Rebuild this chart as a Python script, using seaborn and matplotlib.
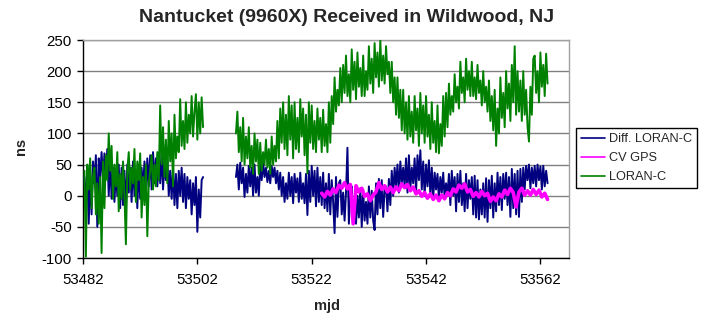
import numpy as np
import pandas as pd
import matplotlib
matplotlib.use("Agg")
import matplotlib.pyplot as plt
from matplotlib.lines import Line2D
import seaborn as sns

# ---------------- data ----------------
TITLE = "Nantucket (9960X) Received in Wildwood, NJ"
SERIES = ["Diff. LORAN-C", "CV GPS", "LORAN-C"]
COLORS = {"Diff. LORAN-C": "#000080", "CV GPS": "#FF00FF", "LORAN-C": "#008000"}
XTICKS = [53482, 53502, 53522, 53542, 53562]
YTICKS = [-100, -50, 0, 50, 100, 150, 200, 250]

# sampling of the recorded series (start mjd, step in days)
SEG1_START, SEG2_START, GPS_START = 53482.25, 53508.75, 53523.75
LORAN_STEP, GPS_STEP = 0.25, 0.5

loran_seg1 = [
    40, -98, 50,
    10, 60, -20, 30,
    45, -30, 20, -45,
    30, -92, 55, -20,
    65, 25, 100, 40,
    80, -5, 50, 15,
    70, -25, 35, -5,
    55, 0, -78, 40,
    70, 10, 45, 20,
    75, -10, 55, 25,
    68, -35, 30, -15,
    50, -65, 20, 40,
    65, 10, 50, 15,
    70, 25, 145, 50,
    110, 30, 90, 20,
    120, 55, 100, 15,
    130, 60, 95, 70,
    155, 80, 120, 75,
    150, 85, 130, 100,
    160, 95, 135, 163,
    90, 150, 100, 158,
    110,
]
diff_seg1 = [
    30, -15, 40,
    -45, 35, -30, 55,
    20, 65, -50, 60,
    30, 70, 25, 68,
    35, 75, 0, 60,
    -5, 45, -10, 40,
    0, 50, -20, 45,
    -15, 40, -25, 50,
    5, 45, -10, 55,
    0, 40, -20, 50,
    -5, 45, 10, 55,
    5, 60, 15, 65,
    10, 70, 20, 60,
    15, 65, 20, 70,
    10, 55, 25, 60,
    0, 40, -5, 45,
    -15, 35, -20, 40,
    0, 45, -10, 35,
    -20, 30, -5, 25,
    -30, 20, -15, 30,
    -58, 10, -35, 25,
    30,
]
loran_seg2 = [
    100,
    135, 70, 110, 55,
    125, 50, 95, 60,
    110, 45, 80, 35,
    100, 55, 90, 35,
    85, 40, 70, 50,
    90, 45, 75, 35,
    95, 50, 80, 55,
    120, 60, 140, 85,
    150, 75, 130, 65,
    160, 90, 145, 60,
    150, 75, 125, 70,
    155, 95, 140, 65,
    130, 36, 150, 85,
    145, 75, 120, 70,
    140, 90, 125, 70,
    138, 80, 115, 70,
    150, 85, 160, 115,
    190, 135, 170, 145,
    205, 150, 210, 165,
    225, 160, 195, 150,
    235, 170, 215, 155,
    230, 175, 205, 160,
    225, 160, 200, 170,
    240, 180, 220, 165,
    245, 190, 230, 175,
    250, 185, 225, 180,
    240, 195, 215, 165,
    215, 150, 190, 130,
    190, 125, 170, 105,
    170, 100, 150, 90,
    160, 95, 135, 85,
    160, 105, 140, 80,
    165, 100, 145, 85,
    160, 95, 130, 75,
    150, 85, 120, 70,
    145, 68, 115, 80,
    160, 95, 165, 110,
    180, 130, 160, 135,
    195, 150, 175, 140,
    215, 165, 190, 150,
    220, 170, 200, 160,
    215, 160, 190, 155,
    210, 165, 185, 145,
    200, 150, 175, 135,
    185, 120, 160, 105,
    170, 80, 140, 100,
    190, 125, 165, 110,
    200, 140, 180, 120,
    210, 150, 240, 130,
    200, 135, 185, 120,
    200, 130, 170, 110,
    87, 175, 130, 220,
    225, 165, 200, 150,
    230, 175, 210, 160,
    228, 180,
]
diff_seg2 = [
    30,
    50, 10, 53, 20,
    45, -2, 35, 5,
    48, 15, 45, 0,
    50, 5, 30, 0,
    50, 25, 53, 30,
    45, 22, 40, 20,
    48, 30, 45, 20,
    40, 10, 37, 0,
    30, -10, 20, -5,
    37, 0, 30, -12,
    35, 5, 28, -10,
    37, -5, 20, -12,
    35, -31, 40, -10,
    48, 0, 40, -17,
    45, -10, 30, -15,
    37, -20, 20, -25,
    35, -30, 25, -10,
    -60, 30, -34, 20,
    25, -30, 5, -40,
    5, 77, -45, 10,
    15, -40, -5, -45,
    0, -35, 12, -50,
    10, -40, -10, -45,
    15, -35, 8, -40,
    -55, 20, -30, 27,
    -20, 25, -34, 10,
    15, -25, 27, -15,
    40, 0, 45, 15,
    50, 5, 55, 20,
    45, 15, 60, 5,
    65, 10, 45, 20,
    60, 5, 65, 25,
    73, 10, 55, 0,
    50, 15, 57, 0,
    45, -5, 37, 10,
    35, -7, 30, 5,
    37, -5, 20, 0,
    35, -15, 40, 0,
    30, -25, 35, -10,
    40, -15, 20, -25,
    35, -20, 25, -5,
    30, -30, 32, -35,
    25, -38, 10, -30,
    20, -35, 28, -42,
    25, -20, 32, -35,
    20, -25, 37, -15,
    30, -23, 35, -5,
    37, -15, 30, -34,
    43, -20, 35, -30,
    40, -34, 43, -10,
    45, 10, 48, 25,
    50, 12, 45, 20,
    48, 15, 50, 25,
    47, 10, 48, 15,
    40, 20,
]
cv_gps = [
    4, -2, 7, 1, 11, 5, 17, 12, 21, 11,
    18, -45, 16, 6, 12, -1, 3, -8, 1, 6,
    21, 10, 16, 6, 14, 5, 14, 8, 19, 13,
    18, 8, 14, 3, 8, -1, 5, -4, 3, -6,
    1, -8, 1, -5, 5, 0, 11, 6, 17, 12,
    19, 6, 10, -1, 5, -2, 7, 0, 4, -9,
    -2, -8, 3, -2, 9, 2, 12, 5, -18, 6,
    12, 1, 8, 1, 10, 2, 9, -2, 4, -6,
]

# ---------------- build long table ----------------
def times(start, step, vals):
    return start + step * np.arange(len(vals))

frames = [
    pd.DataFrame({"mjd": times(SEG1_START, LORAN_STEP, diff_seg1), "ns": diff_seg1,
                  "series": "Diff. LORAN-C", "seg": "a"}),
    pd.DataFrame({"mjd": times(SEG2_START, LORAN_STEP, diff_seg2), "ns": diff_seg2,
                  "series": "Diff. LORAN-C", "seg": "b"}),
    pd.DataFrame({"mjd": times(GPS_START, GPS_STEP, cv_gps), "ns": cv_gps,
                  "series": "CV GPS", "seg": "c"}),
    pd.DataFrame({"mjd": times(SEG1_START, LORAN_STEP, loran_seg1), "ns": loran_seg1,
                  "series": "LORAN-C", "seg": "d"}),
    pd.DataFrame({"mjd": times(SEG2_START, LORAN_STEP, loran_seg2), "ns": loran_seg2,
                  "series": "LORAN-C", "seg": "e"}),
]
df = pd.concat(frames, ignore_index=True)

# ---------------- plot ----------------
sns.set_style("white")
plt.rcParams["font.family"] = ["Liberation Sans", "DejaVu Sans"]
plt.rcParams["axes.unicode_minus"] = False

fig = plt.figure(figsize=(7.06, 3.2), dpi=100)
ax = fig.add_axes([83 / 706, 1 - 258 / 320, (569 - 83) / 706, (258 - 40) / 320])

widths = {"Diff. LORAN-C": 1.4, "CV GPS": 2.6, "LORAN-C": 1.4}
for name in SERIES:
    sub = df[df["series"] == name]
    sns.lineplot(data=sub, x="mjd", y="ns", units="seg", estimator=None,
                 color=COLORS[name], lw=widths[name], ax=ax, legend=False,
                 zorder=3)

ax.set_xlim(53482, 53567)
ax.set_ylim(-100, 250)
ax.set_xticks(XTICKS)
ax.set_yticks(YTICKS)
ax.set_xticklabels([str(v) for v in XTICKS])
ax.yaxis.grid(True, color="#808080", lw=1.0, zorder=0)
ax.xaxis.grid(False)
ax.tick_params(axis="both", which="major", bottom=True, left=True, top=False,
               right=False, labelsize=10.8, length=4, width=1, direction="out",
               colors="black")
ax.tick_params(axis="y", pad=4)
ax.tick_params(axis="x", pad=7)

for s in ["left", "bottom"]:
    ax.spines[s].set_color("black")
    ax.spines[s].set_linewidth(1.0)
for s in ["top", "right"]:
    ax.spines[s].set_color("#A0A0A0")
    ax.spines[s].set_linewidth(1.0)

ax.set_xlabel("")
ax.set_ylabel("")
fig.text(346.5 / 706, 1 - 17.5 / 320, TITLE, fontsize=14, fontweight="bold",
         ha="center", va="center")
fig.text(327 / 706, 1 - 306 / 320, "mjd", fontsize=10.5, fontweight="bold",
         ha="center", va="center")
fig.text(20.5 / 706, 1 - 146 / 320, "ns", fontsize=10.5, fontweight="bold",
         ha="center", va="center", rotation=90)

handles = [Line2D([0], [0], color=COLORS[n], lw=1.2) for n in SERIES]
leg = fig.legend(handles, SERIES, loc="upper left",
                 bbox_to_anchor=(576 / 706, 1 - 128 / 320),
                 frameon=True, fancybox=False, framealpha=1, edgecolor="black",
                 fontsize=9.2, handlelength=1.9, handletextpad=0.3,
                 borderpad=0.4, labelspacing=0.55, borderaxespad=0)
leg.get_frame().set_linewidth(1.0)

fig.savefig("out.png", dpi=100)
